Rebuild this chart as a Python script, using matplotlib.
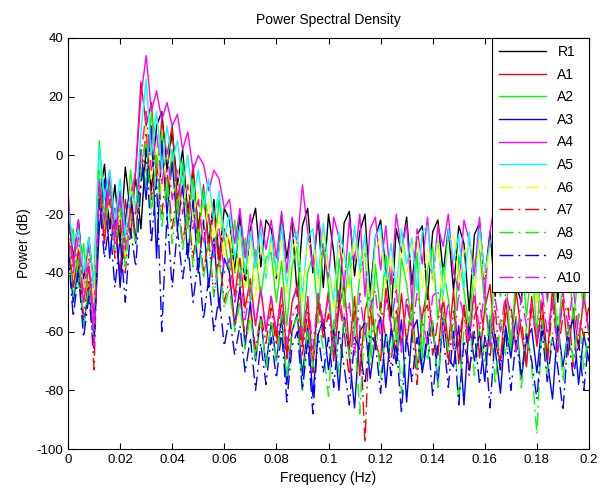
import numpy as np
import matplotlib
matplotlib.use('Agg')
import matplotlib.pyplot as plt

plt.rcParams['font.family'] = ['Liberation Sans', 'DejaVu Sans']
plt.rcParams['axes.unicode_minus'] = False

# Frequency bins (Hz)
freq = np.arange(101) * 0.002

# PSD values (dB)
r1 = [-20, -35, -22, -42, -28, -45,
      -15, -3, -25, -10, -30, -4, -20,
      -8, -25, 3, -12, 10, 15, -5, 8,
      -10, 2, -20, -5, -25, -12, -30, -15, -35, -18,
      -22, -40, -20, -45, -25, -18, -38, -22,
      -25, -42, -20, -35, -22, -48, -24, -18, -40, -21,
      -45, -20, -33, -52, -23, -19, -41, -26, -20, -47,
      -28, -22, -39, -55, -25, -33, -21, -44, -27, -24,
      -49, -26, -22, -40, -25, -46, -24, -30, -53, -27,
      -23, -42, -26, -48, -25, -38, -24, -44, -50, -27,
      -24, -45, -28, -40, -25, -50, -29, -24, -43, -27,
      -46, -30]
a1 = [-28, -45, -32, -50, -38, -55,
      -12, -30, -8, -25, -40, -15, -28,
      -5, 25, 10, 18, -8, 12, 0, 10,
      -15, -5, -22, -3, -28, -10, -32, -18, -38, -25,
      -30, -48, -35, -52, -42, -58, -45, -60,
      -48, -62, -45, -68, -50, -44, -65, -49, -72, -47,
      -60, -46, -70, -52, -44, -66, -48, -75, -53, -46,
      -63, -70, -45, -58, -67, -47, -64, -50, -73, -55,
      -45, -61, -68, -48, -65, -46, -71, -51, -63, -45,
      -69, -52, -44, -64, -70, -49, -66, -46, -60, -72,
      -48, -65, -50, -69, -45, -63, -49, -68, -52, -66,
      -47, -61]
a2 = [-32, -25, -45, -30, -50, -40,
      5, -20, -10, -30, -15, -35, -5,
      -20, 0, -10, 15, -5, 8, -15, 2,
      -20, -2, -25, -8, -30, -12, -22, -35, -15, -28,
      -40, -22, -45, -28, -50, -32, -48, -35,
      -33, -50, -36, -58, -38, -31, -62, -40, -34, -55,
      -30, -45, -65, -35, -52, -33, -60, -41, -32, -68,
      -37, -54, -34, -47, -63, -35, -44, -58, -33, -70,
      -39, -31, -56, -38, -49, -66, -34, -46, -59, -36,
      -32, -51, -64, -35, -48, -38, -67, -40, -33, -55,
      -37, -61, -32, -50, -36, -63, -41, -34, -57, -39,
      -52, -35]
a3 = [-30, -50, -38, -58, -45, -62,
      -25, -8, -35, -18, -45, -22, -10,
      -30, 2, -15, 10, -35, 5, -20, -2,
      -25, -10, -35, -15, -40, -22, -45, -28, -52, -35,
      -40, -58, -45, -65, -50, -70, -55, -72,
      -57, -70, -55, -78, -60, -54, -75, -58, -82, -61,
      -56, -73, -59, -80, -55, -68, -86, -60, -57, -76,
      -62, -55, -79, -59, -71, -56, -84, -60, -56, -74,
      -63, -57, -78, -55, -69, -72, -58, -85, -57, -70,
      -60, -77, -56, -66, -81, -58, -69, -55, -76, -63,
      -59, -74, -57, -70, -83, -58, -72, -60, -56, -78,
      -61, -70]
a4 = [-12, -38, -22, -48, -30, -58,
      -8, -25, -5, -28, -12, -30, -15,
      -5, 20, 34, 15, 22, 12, 18, 10,
      14, 2, 8, -5, 0, -3, -12, -5, -8, -18,
      -15, -30, -18, -35, -20, -38, -22, -32,
      -22, -35, -19, -40, -21, -30, -10, -26, -38, -20,
      -33, -42, -21, -28, -45, -22, -36, -20, -48, -25,
      -21, -39, -24, -44, -20, -32, -23, -50, -25, -37,
      -21, -43, -24, -31, -20, -40, -46, -22, -29, -41,
      -21, -47, -26, -15, -24, -42, -21, -35, -44, -22,
      -28, -38, -23, -49, -21, -33, -40, -22, -45, -25,
      -39, -22]
a5 = [-18, -30, -25, -40, -28, -45,
      3, -15, -5, -22, -8, -28, -12,
      -18, 8, 26, 0, 15, -5, 10, -2,
      5, -10, 0, -15, -5, -18, -8, -22, -12, -28,
      -20, -35, -24, -40, -26, -38, -25, -42,
      -27, -40, -24, -45, -29, -26, -48, -28, -25, -42,
      -23, -38, -50, -26, -33, -44, -24, -39, -27, -52,
      -28, -24, -43, -30, -47, -25, -37, -28, -46, -26,
      -24, -41, -29, -49, -25, -36, -27, -45, -26, -48,
      -25, -40, -30, -24, -46, -27, -38, -25, -44, -29,
      -26, -50, -27, -41, -24, -37, -47, -26, -32, -45,
      -25, -39]
a6 = [-25, -42, -28, -48, -33, -50,
      -12, -25, -15, -30, -18, -35, -10,
      -22, -2, 12, -8, 5, -12, 2, -15,
      -5, -18, -8, -22, -12, -28, -15, -30, -20, -35,
      -25, -42, -28, -45, -30, -48, -31, -40,
      -30, -43, -29, -47, -32, -28, -50, -31, -29, -44,
      -27, -40, -52, -30, -36, -46, -28, -42, -31, -55,
      -32, -28, -45, -33, -49, -29, -40, -32, -27, -46,
      -31, -43, -29, -51, -30, -27, -44, -33, -30, -48,
      -28, -42, -32, -27, -47, -31, -39, -29, -45, -33,
      -30, -52, -31, -43, -28, -38, -49, -30, -35, -46,
      -32, -29]
a7 = [-28, -45, -35, -55, -42, -73,
      -10, -28, -15, -35, -22, -40, -18,
      -28, -8, 8, -15, -2, -20, -5, -25,
      -12, -30, -18, -35, -22, -40, -28, -48, -32, -50,
      -42, -58, -48, -62, -52, -66, -54, -64,
      -52, -65, -50, -70, -55, -51, -68, -53, -74, -50,
      -62, -54, -67, -50, -60, -76, -53, -57, -98, -52,
      -66, -50, -63, -71, -52, -64, -50, -60, -78, -54,
      -51, -68, -56, -50, -72, -53, -65, -51, -75, -55,
      -50, -62, -69, -52, -73, -54, -51, -66, -56, -70,
      -52, -64, -54, -71, -50, -67, -55, -52, -72, -54,
      -62, -51]
a8 = [-30, -48, -35, -58, -44, -62,
      -5, -25, -12, -32, -18, -38, -20,
      -30, -5, 6, -20, 0, -25, -8, -30,
      -15, -32, -20, -38, -25, -42, -30, -48, -35, -52,
      -45, -60, -50, -66, -54, -70, -56, -72,
      -56, -70, -54, -76, -59, -55, -80, -58, -72, -55,
      -66, -82, -56, -74, -54, -69, -58, -88, -56, -72,
      -55, -76, -60, -68, -55, -81, -59, -54, -73, -57,
      -70, -56, -79, -54, -67, -57, -84, -59, -55, -75,
      -58, -71, -54, -78, -56, -68, -60, -55, -80, -58,
      -72, -95, -56, -74, -60, -55, -77, -58, -70, -54,
      -73, -58]
a9 = [-32, -55, -40, -62, -48, -66,
      -15, -35, -22, -45, -28, -50, -25,
      -38, -10, 2, -30, -8, -60, -20, -45,
      -25, -42, -30, -50, -35, -56, -42, -60, -48, -65,
      -55, -68, -58, -74, -62, -80, -64, -78,
      -62, -76, -60, -84, -65, -60, -80, -63, -88, -61,
      -74, -62, -79, -60, -72, -85, -62, -66, -78, -61,
      -64, -81, -60, -75, -63, -88, -61, -77, -62, -73,
      -60, -82, -64, -61, -79, -60, -85, -63, -74, -60,
      -78, -62, -86, -61, -73, -60, -80, -63, -75, -61,
      -70, -83, -60, -77, -62, -72, -87, -61, -76, -63,
      -80, -62]
a10 = [-22, -40, -28, -50, -35, -65,
       -8, -22, -12, -30, -15, -32, -18,
       -20, 0, 15, -5, 8, -10, 2, -15,
       -5, -20, -10, -25, -15, -30, -20, -35, -25, -40,
       -35, -50, -40, -56, -45, -58, -46, -60,
       -48, -60, -46, -64, -50, -45, -62, -48, -66, -47,
       -57, -49, -65, -46, -59, -50, -68, -47, -61, -52,
       -46, -63, -49, -58, -45, -67, -48, -60, -47, -56,
       -64, -48, -46, -61, -50, -66, -47, -55, -63, -48,
       -59, -46, -65, -49, -60, -47, -54, -67, -48, -58,
       -50, -63, -46, -61, -49, -66, -47, -58, -45, -62,
       -49, -60]

labels = ['R1', 'A1', 'A2', 'A3', 'A4', 'A5', 'A6', 'A7', 'A8', 'A9', 'A10']
series = [r1, a1, a2, a3, a4, a5, a6, a7, a8, a9, a10]
colors = ['#000000', '#ff0000', '#00ff00', '#0000ff', '#ff00ff', '#00ffff',
          '#ffff00', '#ff0000', '#00ff00', '#0000ff', '#ff00ff']
dashdot = (0, (10, 3.5, 1.5, 3.5))
styles = ['-'] * 6 + [dashdot] * 5

fig = plt.figure(figsize=(6.02, 4.94), dpi=100)
ax = fig.add_axes([68 / 602, 45 / 494, 521 / 602, 411 / 494])

for vals, lab, col, ls in zip(series, labels, colors, styles):
    ax.plot(freq, vals, color=col, linestyle=ls, linewidth=1.0, label=lab)

ax.set_xlim(0, 0.2)
ax.set_ylim(-100, 40)
ax.set_xticks(np.arange(11) * 0.02)
ax.set_xticklabels(['0', '0.02', '0.04', '0.06', '0.08', '0.1',
                    '0.12', '0.14', '0.16', '0.18', '0.2'])
ax.set_yticks(np.arange(-100, 41, 20))
ax.tick_params(direction='in', top=True, right=True, length=4,
               labelsize=9.5, width=0.8)
for sp in ax.spines.values():
    sp.set_linewidth(0.8)

ax.set_title('Power Spectral Density', fontsize=10, pad=10)
ax.set_xlabel('Frequency (Hz)', fontsize=10)
ax.set_ylabel('Power (dB)', fontsize=10)

leg = ax.legend(loc='upper right', borderaxespad=0, fancybox=False,
                edgecolor='k', framealpha=1, fontsize=10,
                handlelength=3.4, labelspacing=0.62, handletextpad=0.8,
                borderpad=0.5)
leg.get_frame().set_linewidth(0.8)

fig.savefig('out.png', dpi=100)
